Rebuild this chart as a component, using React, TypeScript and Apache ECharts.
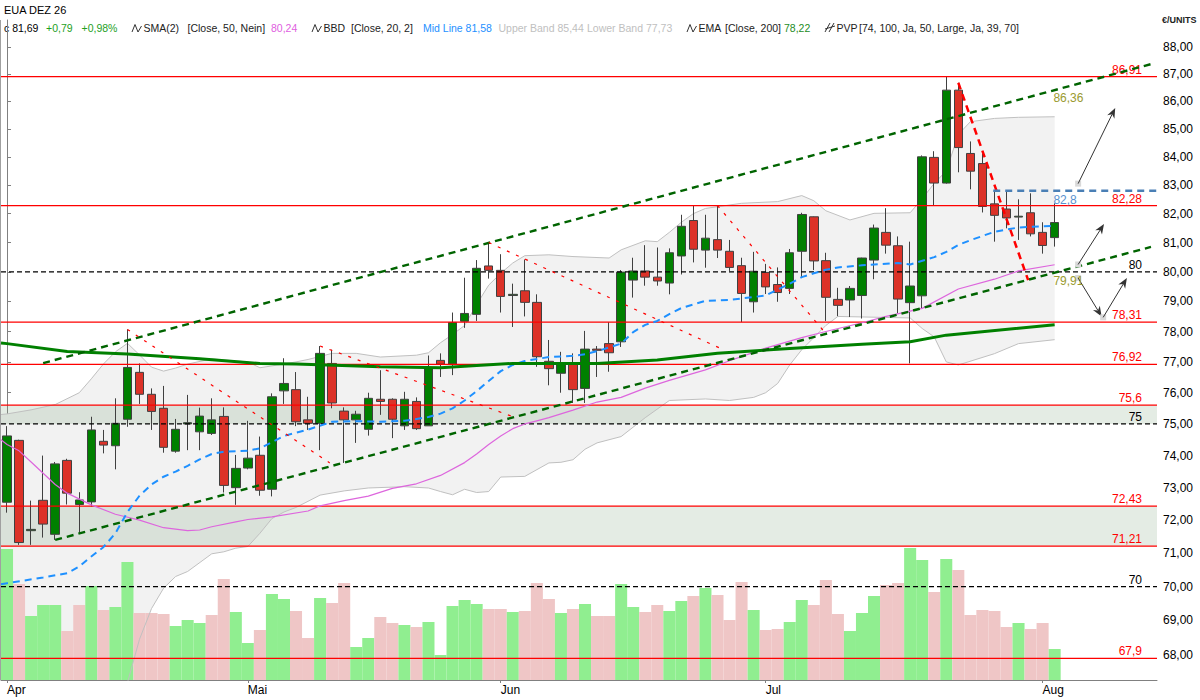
import React, { useEffect, useRef } from "react";
import * as echarts from "echarts";

// ---------- data ----------
const instrument = "EUA DEZ 26";
const firstDay = "2026-04-01";
const exchangeHolidays = ["2026-04-03", "2026-04-06"];
const emptySlotsRight = 8;
const monthNames = ["Jan", "Feb", "Mär", "Apr", "Mai", "Jun", "Jul", "Aug", "Sep", "Okt", "Nov", "Dez"];

const opens = [72.55, 74.48, 71.68, 72.61, 71.57, 73.85, 72.48, 72.56, 74.45, 74.31, 75.15, 76.66, 75.95, 75.5, 74.14, 75.0, 74.75, 74.7, 75.24, 73.0, 73.61, 74.01, 72.95, 76.06, 76.1, 75.13, 75.02, 76.95, 75.41, 75.13, 74.83, 75.79, 75.79, 74.94, 75.72, 74.94, 77.05, 76.93, 78.34, 78.57, 80.2, 80.05, 79.2, 79.36, 78.97, 77.02, 76.63, 76.92, 76.14, 77.42, 77.6, 77.66, 79.72, 80.03, 79.82, 79.62, 80.54, 81.76, 80.74, 81.1, 80.7, 80.21, 78.99, 79.98, 79.57, 79.44, 80.7, 81.89, 80.38, 79.07, 79.05, 79.2, 80.4, 81.35, 80.89, 78.96, 79.19, 83.98, 83.07, 86.41, 84.12, 83.76, 82.34, 82.16, 81.88, 82.03, 81.35, 81.17];
const highs = [74.93, 74.5, 72.6, 74.0, 73.8, 73.9, 72.86, 75.23, 74.81, 75.82, 78.07, 76.95, 76.14, 76.22, 75.16, 75.93, 75.52, 75.82, 75.53, 74.02, 75.1, 74.6, 75.98, 77.12, 76.67, 75.87, 77.52, 77.4, 75.53, 75.42, 76.0, 76.73, 75.82, 76.03, 75.85, 77.21, 77.28, 78.63, 79.8, 80.4, 81.0, 80.6, 79.6, 80.42, 79.24, 77.72, 77.33, 77.28, 78.02, 77.52, 78.31, 80.06, 80.48, 80.91, 80.83, 80.8, 81.96, 82.28, 81.96, 82.28, 81.09, 80.48, 80.68, 80.27, 80.15, 80.78, 82.03, 81.9, 80.65, 79.46, 79.52, 80.48, 81.62, 82.19, 81.21, 81.03, 84.05, 84.2, 86.9, 86.68, 84.55, 84.12, 82.83, 82.79, 82.5, 82.71, 81.7, 82.36];
const lows = [72.23, 71.25, 71.25, 71.47, 71.4, 72.48, 71.62, 72.42, 74.07, 73.57, 74.91, 75.64, 74.81, 74.09, 74.09, 74.17, 74.17, 74.65, 72.85, 72.47, 73.57, 72.75, 72.73, 75.64, 74.93, 74.81, 74.17, 75.5, 73.77, 74.4, 74.63, 75.29, 74.55, 74.81, 74.81, 74.94, 76.51, 76.57, 78.12, 78.35, 79.77, 78.63, 78.15, 78.5, 76.84, 76.24, 76.0, 75.67, 75.67, 76.51, 76.68, 77.49, 79.13, 79.53, 79.53, 79.24, 79.91, 80.32, 80.14, 80.47, 80.03, 78.31, 78.63, 79.25, 78.99, 79.25, 79.8, 80.06, 78.35, 78.51, 78.48, 78.43, 79.75, 80.62, 78.6, 76.95, 78.77, 82.3, 83.05, 83.45, 82.85, 82.04, 81.03, 81.49, 81.09, 81.21, 80.62, 80.86];
const closes = [74.62, 71.32, 71.72, 71.88, 73.74, 72.83, 72.62, 74.81, 74.33, 75.02, 76.82, 75.95, 75.4, 74.26, 74.83, 75.04, 75.25, 75.13, 73.07, 73.6, 73.92, 72.92, 75.87, 76.3, 75.07, 75.02, 77.28, 75.67, 75.13, 75.31, 75.82, 75.72, 75.15, 75.79, 74.85, 76.79, 76.93, 78.3, 78.6, 80.12, 80.05, 79.17, 79.24, 78.97, 77.17, 76.78, 76.92, 76.1, 77.42, 77.38, 77.3, 79.99, 80.03, 79.82, 79.69, 80.65, 81.56, 80.77, 81.15, 80.74, 80.15, 79.27, 80.02, 79.49, 79.3, 80.65, 81.97, 80.37, 79.14, 78.87, 79.44, 80.47, 81.5, 80.91, 79.08, 79.52, 84.0, 83.07, 86.41, 84.33, 83.49, 82.25, 81.94, 81.85, 81.91, 81.3, 80.9, 81.69];
const volumes = [131, 96, 64, 75, 75, 49, 75, 94, 70, 73, 118, 67, 67, 66, 54, 60, 57, 65, 101, 68, 37, 50, 86, 81, 69, 42, 82, 77, 97, 33, 42, 63, 57, 55, 53, 58, 25, 74, 80, 76, 71, 71, 68, 69, 97, 81, 67, 71, 76, 64, 64, 96, 73, 68, 75, 69, 79, 84, 92, 85, 60, 98, 70, 50, 51, 58, 80, 75, 100, 66, 49, 67, 84, 95, 97, 132, 120, 88, 121, 110, 65, 70, 69, 53, 57, 51, 57, 31];

// indicator readings: [bar index, value]  (-0.5 = left edge of the chart)
const upperBand = [[-0.5, 75.3], [0, 75.32], [2, 75.45], [4, 75.62], [6, 76.0], [7, 76.45], [8, 76.93], [9, 77.33], [10, 77.61], [11, 77.23], [12, 76.83], [13, 76.7], [14, 76.8], [15, 76.93], [17, 77.1], [19, 77.03], [20, 77.0], [21, 76.81], [22, 76.87], [24, 77.0], [25, 77.08], [27, 77.28], [29, 77.28], [31, 77.16], [34, 77.22], [35, 77.3], [36, 77.63], [37, 77.9], [38, 78.2], [39, 78.9], [40, 79.55], [41, 79.95], [42, 80.3], [43, 80.55], [45, 80.58], [47, 80.52], [50, 80.47], [51, 80.75], [53, 81.06], [54, 81.03], [55, 81.35], [56, 81.7], [57, 82.0], [58, 82.18], [61, 82.36], [64, 82.42], [66, 82.63], [67, 82.45], [68, 82.1], [70, 81.78], [72, 82.01], [75, 82.03], [76, 82.52], [77, 83.06], [78, 83.5], [79, 84.8], [80, 85.26], [82, 85.38], [84, 85.42], [87, 85.44]];
const lowerBand = [[-0.5, 64.9], [0, 64.9], [3, 65.0], [5, 65.0], [7, 65.55], [9, 66.2], [10, 67.2], [11, 68.45], [12, 69.35], [13, 69.95], [14, 70.3], [15, 70.45], [17, 70.98], [18, 71.04], [19, 71.15], [20, 71.2], [21, 71.6], [22, 72.05], [23, 72.25], [24, 72.39], [26, 72.77], [28, 72.9], [30, 72.99], [33, 73.03], [35, 72.99], [36, 72.88], [37, 72.78], [38, 72.95], [39, 72.85], [40, 72.88], [41, 73.33], [43, 73.35], [45, 73.77], [46, 73.79], [47, 73.87], [48, 74.2], [49, 74.4], [51, 74.6], [53, 75.2], [55, 75.75], [58, 75.8], [60, 75.75], [62, 75.85], [63, 76.0], [64, 76.3], [65, 76.9], [66, 77.4], [68, 78.2], [69, 78.5], [75, 78.45], [76, 78.1], [77, 77.82], [78, 77.0], [79, 76.9], [82, 77.27], [84, 77.6], [87, 77.73]];
const midLine = [[-0.5, 70.07], [0, 70.1], [3, 70.27], [5, 70.4], [6, 70.6], [7, 70.9], [8, 71.18], [9, 71.6], [10, 72.25], [11, 72.75], [12, 73.1], [13, 73.34], [14, 73.5], [15, 73.68], [16, 73.88], [17, 74.05], [18, 74.12], [20, 74.15], [21, 74.23], [22, 74.42], [23, 74.62], [24, 74.72], [25, 74.82], [27, 75.07], [29, 75.09], [31, 75.07], [33, 75.1], [35, 75.22], [36, 75.33], [37, 75.5], [38, 75.75], [39, 76.05], [40, 76.38], [41, 76.7], [42, 76.9], [43, 77.03], [45, 77.16], [47, 77.2], [48, 77.25], [49, 77.35], [51, 77.6], [52, 77.98], [53, 78.22], [54, 78.35], [55, 78.58], [56, 78.78], [58, 79.02], [60, 79.05], [61, 79.1], [63, 79.2], [64, 79.4], [65, 79.6], [66, 79.82], [67, 79.95], [68, 80.07], [69, 80.15], [71, 80.22], [74, 80.3], [75, 80.25], [77, 80.5], [78, 80.68], [79, 80.92], [80, 81.08], [82, 81.37], [84, 81.52], [87, 81.58]];
const sma50 = [[-0.5, 74.5], [0, 74.35], [1, 74.15], [2, 73.8], [4, 73.1], [5, 72.83], [7, 72.47], [9, 72.18], [11, 72.0], [13, 71.77], [15, 71.68], [16, 71.7], [17, 71.8], [19, 71.95], [20, 72.02], [22, 72.1], [25, 72.28], [26, 72.44], [28, 72.6], [30, 72.74], [32, 72.98], [34, 73.12], [36, 73.38], [38, 73.78], [39, 74.05], [40, 74.35], [41, 74.62], [42, 74.85], [43, 75.0], [44, 75.1], [45, 75.2], [47, 75.44], [49, 75.7], [51, 75.85], [53, 76.15], [55, 76.4], [58, 76.74], [60, 77.04], [63, 77.45], [66, 77.8], [68, 78.0], [71, 78.29], [73, 78.5], [75, 78.68], [76, 78.77], [79, 79.42], [82, 79.75], [84, 80.03], [87, 80.24]];
const ema200 = [[-0.5, 77.62], [0, 77.6], [5, 77.34], [10, 77.26], [16, 77.1], [21, 76.95], [24, 76.93], [31, 76.84], [36, 76.81], [39, 76.88], [42, 76.95], [49, 76.95], [54, 77.06], [59, 77.28], [65, 77.44], [71, 77.58], [75, 77.66], [78, 77.88], [87, 78.22]];

const priceTicks = [68, 69, 70, 71, 72, 73, 74, 75, 76, 77, 78, 79, 80, 81, 82, 83, 84, 85, 86, 87, 88];
const priceMin = 67.28;
const priceMax = 89.02;
const volumeAxisMax = 660;

const redLevels = [86.91, 82.28, 78.31, 76.92, 75.6, 72.43, 71.21, 67.9];
const blackLevels = [80, 75, 70];
const zones = [[75, 75.6], [71.21, 72.43]];

const channelUpper = [[3, 76.96], [95, 87.37]];
const channelLower = [[4, 71.4], [95, 80.85]];
const downTrends = [
  [[10, 78.07], [26.8, 73.77]],
  [[26, 77.52], [42.3, 75.19]],
  [[40, 81.0], [59.5, 77.4]],
  [[59, 82.28], [68, 77.93]],
];
const mainDownTrend = [[79, 86.68], [84.8, 79.72]];
const resistanceLine = [[81.9, 82.8], [95.5, 82.8]];
const arrows = [
  [[88.95, 83.05], [92.03, 85.76]],
  [[88.95, 80.25], [91.1, 81.64]],
  [[88.95, 79.79], [90.9, 78.5]],
  [[91.03, 78.47], [93.0, 79.79]],
];
const annotations = [
  { at: 86.9, value: 86.12, text: "86,36", color: "#9a9a30" },
  { at: 86.9, value: 82.49, text: "82,8", color: "#5a92cf" },
  { at: 86.9, value: 79.68, text: "79,91", color: "#9a9a30" },
];

// ---------- helpers ----------
const L = Math.log;
const FONT = '"Liberation Sans", Arial, sans-serif';
const fmt = (v: number, d = 2) => v.toFixed(d).replace(".", ",");
const pts = (arr: number[][]) => arr.map(([i, v]) => [i, L(v)]);

function buildDays(start: string, count: number, closed: string[]) {
  const out: string[] = [];
  const d = new Date(start + "T00:00:00Z");
  while (out.length < count) {
    const dow = d.getUTCDay();
    const iso = d.toISOString().slice(0, 10);
    if (dow !== 0 && dow !== 6 && !closed.includes(iso)) out.push(iso);
    d.setUTCDate(d.getUTCDate() + 1);
  }
  return out;
}

const dates = buildDays(firstDay, opens.length + emptySlotsRight, exchangeHolidays);
const isMonthStart = (i: number) => i === 0 || dates[i].slice(5, 7) !== dates[i - 1].slice(5, 7);
const xMax = dates.length - 0.5;

function buildOption() {
  const last = closes.length - 1;
  const chg = closes[last] - closes[last - 1];
  const pct = (chg / closes[last - 1]) * 100;
  const sign = (v: number) => (v >= 0 ? "+" : "");
  const lastOf = (a: number[][]) => a[a.length - 1][1];

  const candleData = opens.map((o, i) => [L(o), L(closes[i]), L(lows[i]), L(highs[i])]);
  const volData = volumes.map((v, i) => {
    const up = i === 0 ? closes[0] >= opens[0] : closes[i] >= closes[i - 1];
    return { value: v, itemStyle: { color: up ? "#90ee90" : "#efc6c6" } };
  });

  const levelItems = [
    ...redLevels.map((v) => ({ value: v, color: "#ff0000", dashed: false, label: String(v).replace(".", ",") })),
    ...blackLevels.map((v) => ({ value: v, color: "#000000", dashed: true, label: String(v) })),
  ];

  const lineSeries = (name: string, data: number[][], color: string, width: number, type: any, z: number) => ({
    type: "line",
    name,
    xAxisIndex: 1,
    yAxisIndex: 0,
    data: pts(data),
    showSymbol: false,
    symbol: "none",
    silent: true,
    z,
    lineStyle: { color, width, type },
  });

  const HF = `10.5px ${FONT}`;
  const ht = (x: number, y: number, text: string, fill: string, font = HF) => ({
    type: "text",
    x,
    y,
    style: { text, fill, font, verticalAlign: "middle" },
  });
  const wave = (x: number) => ({
    type: "polyline",
    shape: { points: [[x, 32], [x + 3, 24.5], [x + 6, 32], [x + 9.5, 26]] },
    style: { stroke: "#333", lineWidth: 1, fill: null },
  });

  const header = [
    ht(4, 10, instrument, "#000", `11px ${FONT}`),
    ht(4, 28, "c " + fmt(closes[last]), "#000"),
    ht(46, 28, sign(chg) + fmt(chg), "#1ea01e"),
    ht(81.5, 28, sign(pct) + fmt(pct) + "%", "#1ea01e"),
    wave(132),
    ht(143.5, 28, "SMA(2)", "#222"),
    ht(187.5, 28, "[Close, 50, Nein]", "#222"),
    ht(271, 28, fmt(lastOf(sma50)), "#e060e0"),
    wave(312),
    ht(323.5, 28, "BBD", "#222"),
    ht(351, 28, "[Close, 20, 2]", "#222"),
    ht(423, 28, "Mid Line " + fmt(lastOf(midLine)), "#1e90ff"),
    ht(498.5, 28, "Upper Band " + fmt(lastOf(upperBand)), "#c0c0c0"),
    ht(587, 28, "Lower Band " + fmt(lastOf(lowerBand)), "#c0c0c0"),
    wave(687),
    ht(698.5, 28, "EMA", "#222"),
    ht(725, 28, "[Close, 200]", "#222"),
    ht(784, 28, fmt(lastOf(ema200)), "#1e8c1e"),
    { type: "line", shape: { x1: 825, y1: 32, x2: 830, y2: 23 }, style: { stroke: "#333", lineWidth: 1 } },
    { type: "line", shape: { x1: 829, y1: 32, x2: 834, y2: 23 }, style: { stroke: "#333", lineWidth: 1 } },
    { type: "line", shape: { x1: 825, y1: 29, x2: 835, y2: 26 }, style: { stroke: "#333", lineWidth: 1 } },
    ht(836.5, 28, "PVP", "#222"),
    ht(859, 28, "[74, 100, Ja, 50, Large, Ja, 39, 70]", "#222"),
    { type: "text", x: 1162, y: 20, style: { text: "€/UNITS", fill: "#222", font: `bold 9px "Liberation Sans Narrow", ${FONT}`, verticalAlign: "middle" } },
    { type: "line", shape: { x1: 0.5, y1: 20, x2: 0.5, y2: 680 }, style: { stroke: "#a0a0a0", lineWidth: 1 } },
  ];

  return {
    animation: false,
    backgroundColor: "#ffffff",
    textStyle: { fontFamily: FONT },
    graphic: header,
    grid: { left: 1, right: 43, top: 20, bottom: 20, containLabel: false },
    xAxis: [
      {
        type: "category",
        data: dates,
        boundaryGap: true,
        axisLine: { show: true, lineStyle: { color: "#808080" } },
        axisTick: { show: true, alignWithLabel: true, length: 3, interval: (i: number) => isMonthStart(i), lineStyle: { color: "#808080" } },
        axisLabel: {
          interval: (i: number) => isMonthStart(i),
          formatter: (v: string) => monthNames[Number(v.slice(5, 7)) - 1],
          align: "left",
          color: "#000",
          fontSize: 12,
          fontFamily: FONT,
          margin: 4,
        },
        splitLine: { show: false },
      },
      { type: "value", min: -0.5, max: xMax, show: false, gridIndex: 0 },
    ],
    yAxis: [
      {
        type: "value",
        position: "right",
        min: L(priceMin),
        max: L(priceMax),
        scale: true,
        splitLine: { show: false },
        axisLine: { show: true, lineStyle: { color: "#808080" } },
        axisTick: { show: true, length: 4, customValues: priceTicks.map(L), lineStyle: { color: "#808080" } },
        axisLabel: {
          customValues: priceTicks.map(L),
          formatter: (v: number) => fmt(Math.exp(v)),
          color: "#000",
          fontSize: 12,
          fontFamily: FONT,
          margin: 6,
        },
      },
      { type: "value", min: 0, max: volumeAxisMax, show: false },
    ],
    series: [
      {
        type: "custom",
        name: "bbfill",
        xAxisIndex: 1,
        yAxisIndex: 0,
        z: 1,
        clip: true,
        silent: true,
        data: [[0, L(upperBand[0][1])]],
        renderItem: (_p: any, api: any) => {
          const top = upperBand.map(([i, v]) => api.coord([i, L(v)]));
          const bottom = lowerBand.slice().reverse().map(([i, v]) => api.coord([i, L(v)]));
          return { type: "polygon", shape: { points: top.concat(bottom) }, style: { fill: "#f2f2f2" } };
        },
      },
      {
        type: "custom",
        name: "zones",
        xAxisIndex: 1,
        yAxisIndex: 0,
        z: 2,
        silent: true,
        data: zones.map((zn, i) => [i, L(zn[0])]),
        renderItem: (p: any, api: any) => {
          const zn = zones[p.dataIndex];
          const a = api.coord([-0.5, L(zn[1])]);
          const b = api.coord([xMax, L(zn[0])]);
          return { type: "rect", shape: { x: a[0], y: a[1], width: b[0] - a[0], height: b[1] - a[1] }, style: { fill: "rgba(120,160,120,0.2)" } };
        },
      },
      {
        type: "bar",
        name: "Volume",
        xAxisIndex: 0,
        yAxisIndex: 1,
        data: volData,
        barCategoryGap: "0%",
        barGap: "0%",
        silent: true,
        z: 3,
      },
      lineSeries("Upper Band", upperBand, "#c0c0c0", 1, "solid", 4),
      lineSeries("Lower Band", lowerBand, "#c0c0c0", 1, "solid", 4),
      {
        type: "candlestick",
        name: instrument,
        xAxisIndex: 0,
        yAxisIndex: 0,
        data: candleData,
        barWidth: 9,
        silent: true,
        z: 5,
        itemStyle: { color: "#008000", color0: "#dc3228", borderColor: "#404040", borderColor0: "#404040", borderWidth: 1 },
      },
      {
        type: "custom",
        name: "levels",
        xAxisIndex: 1,
        yAxisIndex: 0,
        z: 6,
        silent: true,
        data: levelItems.map((lv, i) => [i, L(lv.value)]),
        renderItem: (p: any, api: any) => {
          const lv = levelItems[p.dataIndex];
          const a = api.coord([-0.5, L(lv.value)]);
          const b = api.coord([xMax, L(lv.value)]);
          return {
            type: "group",
            children: [
              { type: "line", shape: { x1: a[0], y1: a[1], x2: b[0], y2: b[1] }, style: { stroke: lv.color, lineWidth: 1.2, lineDash: lv.dashed ? [5, 3] : null } },
              { type: "text", x: b[0] - 15, y: b[1] - 1, style: { text: lv.label, fill: lv.color, font: `12px ${FONT}`, align: "right", verticalAlign: "bottom" } },
            ],
          };
        },
      },
      lineSeries("SMA 50", sma50, "#dd66dd", 1.2, "solid", 7),
      lineSeries("Mid Line", midLine, "#1e90ff", 2, [7, 5], 7),
      lineSeries("EMA 200", ema200, "#008000", 3, "solid", 7),
      lineSeries("Channel oben", channelUpper, "#006400", 2.4, [7, 5], 8),
      lineSeries("Channel unten", channelLower, "#006400", 2.4, [7, 5], 8),
      ...downTrends.map((d, k) => lineSeries("Abwärtstrend " + (k + 1), d, "#ff0000", 1.2, [3, 7], 8)),
      lineSeries("Abwärtstrend kurz", mainDownTrend, "#ff0000", 2.5, [7, 5], 8),
      lineSeries("Widerstand", resistanceLine, "#4a7fb5", 2.5, [7, 5], 8),
      {
        type: "custom",
        name: "arrows",
        xAxisIndex: 1,
        yAxisIndex: 0,
        z: 9,
        silent: true,
        data: arrows.map((a) => [a[0][0], L(a[0][1])]),
        renderItem: (p: any, api: any) => {
          const [s, e] = arrows[p.dataIndex];
          const p0 = api.coord([s[0], L(s[1])]);
          const p1 = api.coord([e[0], L(e[1])]);
          const dx = p1[0] - p0[0];
          const dy = p1[1] - p0[1];
          const len = Math.hypot(dx, dy) || 1;
          const ux = dx / len, uy = dy / len;
          const nx = -uy, ny = ux;
          const hl = 10, hw = 4, notch = 7;
          const head = [
            [p1[0], p1[1]],
            [p1[0] - ux * hl + nx * hw, p1[1] - uy * hl + ny * hw],
            [p1[0] - ux * notch, p1[1] - uy * notch],
            [p1[0] - ux * hl - nx * hw, p1[1] - uy * hl - ny * hw],
          ];
          return {
            type: "group",
            children: [
              { type: "rect", shape: { x: p0[0] - 3, y: p0[1] - 3, width: 6, height: 6 }, style: { fill: "#d9d9d9" } },
              { type: "line", shape: { x1: p0[0], y1: p0[1], x2: p1[0] - ux * notch, y2: p1[1] - uy * notch }, style: { stroke: "#333", lineWidth: 1 } },
              { type: "polygon", shape: { points: head }, style: { fill: "#333" } },
            ],
          };
        },
      },
      {
        type: "custom",
        name: "annotations",
        xAxisIndex: 1,
        yAxisIndex: 0,
        z: 9,
        silent: true,
        data: annotations.map((a) => [a.at, L(a.value)]),
        renderItem: (p: any, api: any) => {
          const a = annotations[p.dataIndex];
          const c = api.coord([a.at, L(a.value)]);
          return { type: "text", x: c[0], y: c[1], style: { text: a.text, fill: a.color, font: `12px ${FONT}`, align: "left", verticalAlign: "middle" } };
        },
      },
    ],
  };
}

export default function App() {
  const ref = useRef<HTMLDivElement>(null);
  useEffect(() => {
    if (!ref.current) return;
    const chart = echarts.init(ref.current, null, { renderer: "svg" });
    chart.setOption(buildOption() as any);
    return () => chart.dispose();
  }, []);
  return <div ref={ref} style={{ position: "fixed", left: 0, top: 0, width: 1200, height: 700, background: "#fff" }} />;
}
